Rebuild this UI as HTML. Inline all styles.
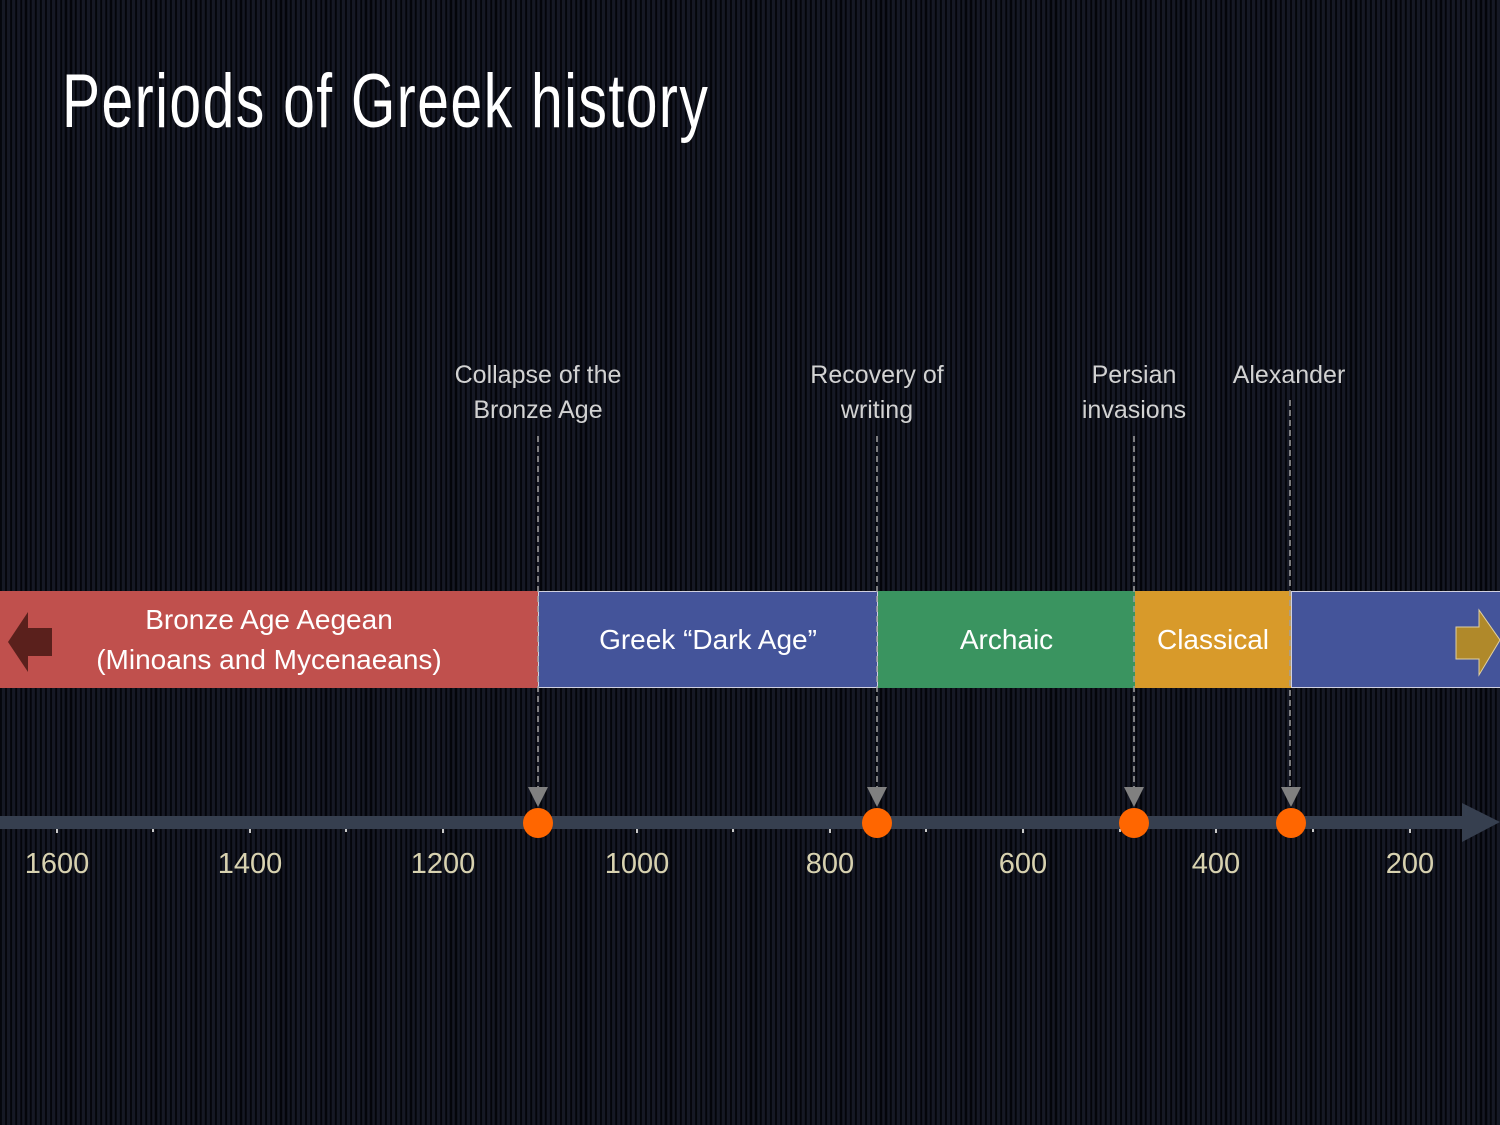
<!DOCTYPE html>
<html><head><style>
html,body{margin:0;padding:0}
body{width:1500px;height:1125px;position:relative;overflow:hidden;
background:repeating-linear-gradient(90deg,#04050a 0px,#04050a 2px,#161925 2px,#161925 5px);
font-family:"Liberation Sans",sans-serif}
.t{position:absolute;left:62px;top:58px;font-size:76px;color:#fff;transform:scaleX(0.75);transform-origin:left top;white-space:nowrap;letter-spacing:2px}
.lab{position:absolute;color:#d2d2d2;font-size:25px;text-align:center;line-height:35px;width:240px;margin-left:-120px}
.bar{position:absolute;top:591px;height:97px;display:flex;align-items:center;justify-content:center;color:#fff;font-size:28px;text-align:center;line-height:40px;box-sizing:border-box}
.yr{position:absolute;top:848px;color:#d8d2b0;font-size:29px;width:100px;margin-left:-50px;text-align:center}
</style></head><body>
<div class="t">Periods of Greek history</div>
<div class="lab" style="left:538px;top:358px">Collapse of the<br>Bronze Age</div>
<div class="lab" style="left:877px;top:358px">Recovery of<br>writing</div>
<div class="lab" style="left:1134px;top:358px">Persian<br>invasions</div>
<div class="lab" style="left:1289px;top:358px">Alexander</div>

<div class="bar" style="left:0;width:538px;background:#c0504d">Bronze Age Aegean<br>(Minoans and Mycenaeans)</div>
<div class="bar" style="left:538px;width:340px;background:#44549a;border:1px solid #d0d0e0">Greek “Dark Age”</div>
<div class="bar" style="left:878px;width:257px;background:#3a9460">Archaic</div>
<div class="bar" style="left:1135px;width:156px;background:#d89a2a">Classical</div>
<div class="bar" style="left:1291px;width:215px;background:#44549a;border:1px solid #d0d0e0"></div>

<svg width="1500" height="1125" style="position:absolute;left:0;top:0">
<polygon points="8,642 28,612 28,628 52,628 52,656 28,656 28,672" fill="#5a201c"/>
<polygon points="1456,627 1479,627 1479,610 1500,640 1479,675 1479,659 1456,659" fill="#b0892a" stroke="#e0d0a0" stroke-width="1"/>
<g stroke="#a0a0a0" stroke-width="1.5" stroke-dasharray="6,4">
<line x1="538" y1="436" x2="538" y2="790"/>
<line x1="877" y1="436" x2="877" y2="790"/>
<line x1="1134" y1="436" x2="1134" y2="790"/>
<line x1="1290" y1="400" x2="1290" y2="790"/>
</g>
<g fill="#808080">
<polygon points="528,787 548,787 538,807"/>
<polygon points="867,787 887,787 877,807"/>
<polygon points="1124,787 1144,787 1134,807"/>
<polygon points="1281,787 1301,787 1291,807"/>
</g>
<rect x="0" y="816" width="1464" height="13" fill="#363f4f"/>
<polygon points="1462,803 1500,822 1462,842" fill="#363f4f"/>
<g stroke="#c8c8c8" stroke-width="2">
<line x1="57" y1="829" x2="57" y2="833"/><line x1="153" y1="829" x2="153" y2="832"/>
<line x1="250" y1="829" x2="250" y2="833"/><line x1="346" y1="829" x2="346" y2="832"/>
<line x1="443" y1="829" x2="443" y2="833"/><line x1="540" y1="829" x2="540" y2="832"/>
<line x1="637" y1="829" x2="637" y2="833"/><line x1="733" y1="829" x2="733" y2="832"/>
<line x1="830" y1="829" x2="830" y2="833"/><line x1="926" y1="829" x2="926" y2="832"/>
<line x1="1023" y1="829" x2="1023" y2="833"/><line x1="1120" y1="829" x2="1120" y2="832"/>
<line x1="1216" y1="829" x2="1216" y2="833"/><line x1="1313" y1="829" x2="1313" y2="832"/>
<line x1="1410" y1="829" x2="1410" y2="833"/>
</g>
<g fill="#ff6600">
<circle cx="538" cy="823" r="15"/><circle cx="877" cy="823" r="15"/>
<circle cx="1134" cy="823" r="15"/><circle cx="1291" cy="823" r="15"/>
</g>
</svg>
<div class="yr" style="left:57px">1600</div>
<div class="yr" style="left:250px">1400</div>
<div class="yr" style="left:443px">1200</div>
<div class="yr" style="left:637px">1000</div>
<div class="yr" style="left:830px">800</div>
<div class="yr" style="left:1023px">600</div>
<div class="yr" style="left:1216px">400</div>
<div class="yr" style="left:1410px">200</div>
</body></html>
